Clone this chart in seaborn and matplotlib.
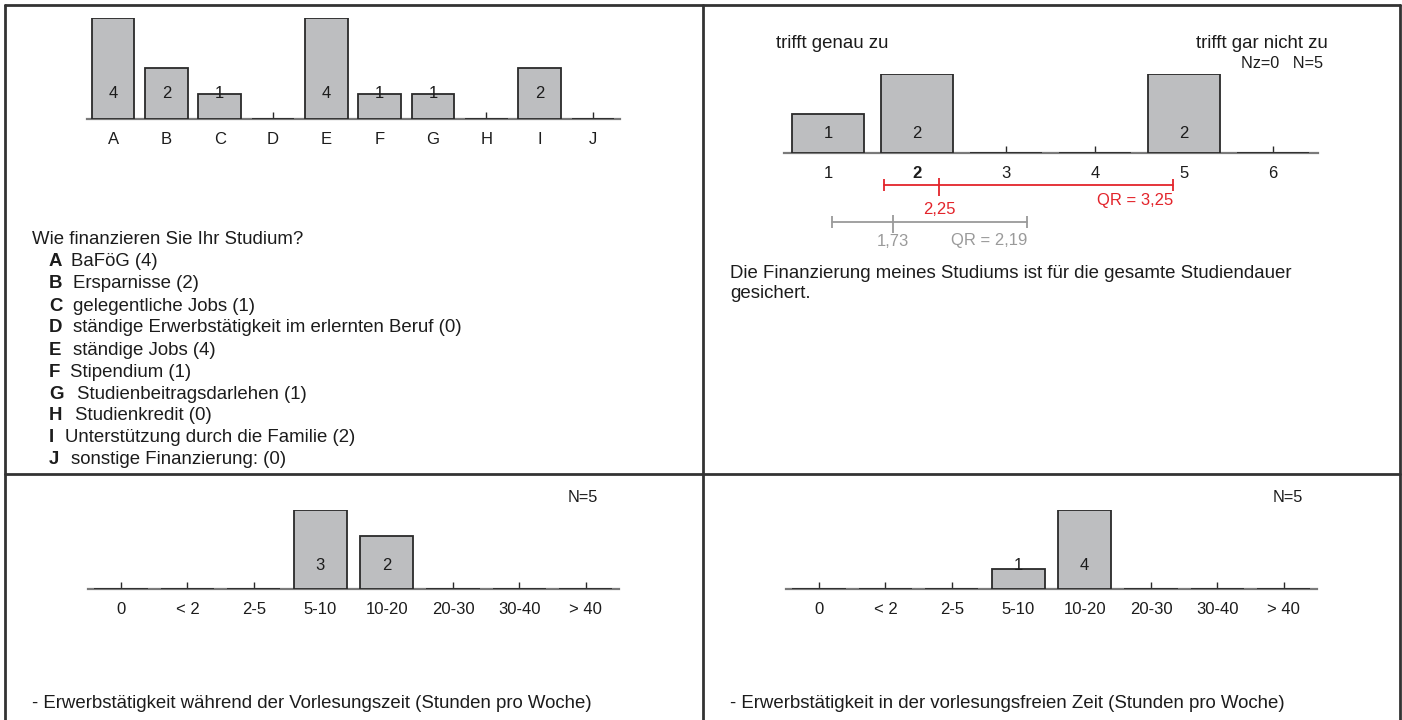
import matplotlib
matplotlib.use('Agg')
import matplotlib.pyplot as plt
import seaborn as sns
from matplotlib.lines import Line2D

# Data
fin_cats = ['A', 'B', 'C', 'D', 'E', 'F', 'G', 'H', 'I', 'J']
fin_counts = [4, 2, 1, 0, 4, 1, 1, 0, 2, 0]
fin_texts = ['BaFöG (4)', 'Ersparnisse (2)', 'gelegentliche Jobs (1)',
             'ständige Erwerbstätigkeit im erlernten Beruf (0)', 'ständige Jobs (4)',
             'Stipendium (1)', 'Studienbeitragsdarlehen (1)', 'Studienkredit (0)',
             'Unterstützung durch die Familie (2)', 'sonstige Finanzierung: (0)']

scale_cats = ['1', '2', '3', '4', '5', '6']
scale_counts = [1, 2, 0, 0, 2, 0]
median_val, q_low, q_high = 2.25, 1.625, 4.875
mean_val, g_low, g_high = 1.73, 1.05, 3.24

hour_cats = ['0', '< 2', '2-5', '5-10', '10-20', '20-30', '30-40', '> 40']
hours_lecture = [0, 0, 0, 3, 2, 0, 0, 0]
hours_free = [0, 0, 0, 1, 4, 0, 0, 0]

sns.set_theme(style='white')
plt.rcParams['font.family'] = ['Liberation Sans', 'DejaVu Sans']

W, H = 1402, 720
fig = plt.figure(figsize=(W / 100, H / 100), dpi=100)

TXT = '#1c1c1c'
BAR = '#bdbec0'
EDGE = '#2a2a2a'
RED = '#e3242b'
GRAY = '#9a9a9a'
FS = 13.4
TFS = 12


def fx(x):
    return x / W


def fy(y):
    return 1 - y / H


def add_ax(left, right, top, bottom):
    return fig.add_axes([fx(left), fy(bottom), fx(right) - fx(left), (bottom - top) / H])


def bar_panel(ax, cats, vals, ymax, label_off):
    sns.barplot(x=cats, y=vals, ax=ax, color=BAR, edgecolor=EDGE, linewidth=1.3,
                width=0.8, saturation=1, order=cats, zorder=3)
    ax.set_xlim(-0.5, len(cats) - 0.5)
    ax.set_ylim(0, ymax)
    for s in ['top', 'left', 'right']:
        ax.spines[s].set_visible(False)
    ax.spines['bottom'].set_color('#7a7a7a')
    ax.spines['bottom'].set_linewidth(1.6)
    ax.spines['bottom'].set_zorder(1)
    ax.set_yticks([])
    ax.set_xlabel('')
    ax.set_ylabel('')
    ax.tick_params(axis='x', direction='in', length=5, width=1, color=EDGE,
                   labelsize=TFS, labelcolor=TXT, pad=9, bottom=True)
    ax.patch.set_alpha(0)
    for i, v in enumerate(vals):
        if v > 0:
            ax.annotate(str(v), xy=(i, 0), xytext=(0, label_off), textcoords='offset pixels',
                        ha='center', va='center', fontsize=TFS, color=TXT, zorder=5)


# Frame lines
for xs, ys in [([5, 1400], [5, 5]), ([5, 5], [5, 720]), ([1400, 1400], [5, 720]),
               ([703, 703], [5, 720]), ([5, 1400], [474, 474])]:
    fig.add_artist(Line2D([fx(x) for x in xs], [fy(y) for y in ys], color='#333333', lw=2))

# Top-left: financing
ax1 = add_ax(86.5, 619.5, 18, 119)
bar_panel(ax1, fin_cats, fin_counts, max(fin_counts), 25)

fig.text(fx(32), fy(240), 'Wie finanzieren Sie Ihr Studium?', fontsize=FS, color=TXT, va='center')
text_x = [71, 73, 73, 73, 73, 70, 77, 75, 65, 71]
for i, (c, t) in enumerate(zip(fin_cats, fin_texts)):
    y = 262 + i * 22
    fig.text(fx(49), fy(y), c, fontsize=FS, fontweight='bold', color=TXT, va='center')
    fig.text(fx(text_x[i]), fy(y), t, fontsize=FS, color=TXT, va='center')

# Top-right: rating scale
ax2 = add_ax(783.5, 1317.5, 74, 153)
bar_panel(ax2, scale_cats, scale_counts, max(scale_counts), 20)
ax2.get_xticklabels()[1].set_fontweight('bold')
fig.text(fx(776), fy(44), 'trifft genau zu', fontsize=FS, color=TXT, va='center')
fig.text(fx(1328), fy(44), 'trifft gar nicht zu', fontsize=FS, color=TXT, va='center', ha='right')
fig.text(fx(1323), fy(64), 'Nz=0   N=5', fontsize=11.7, color=TXT, va='center', ha='right')

axq = add_ax(783.5, 1317.5, 170, 250)
axq.set_xlim(-0.5, 5.5)
axq.set_ylim(250, 170)
axq.axis('off')
# positions in scale units (category index = value - 1)
axq.plot([q_low - 1, q_high - 1], [185, 185], color=RED, lw=1.3)
axq.plot([q_low - 1, q_high - 1], [185, 185], ls='none', marker='|', ms=8, mew=1.3, color=RED)
axq.plot([median_val - 1], [187], ls='none', marker='|', ms=13, mew=1.3, color=RED)
axq.text(median_val - 1, 209, '2,25', color=RED, fontsize=TFS, ha='center', va='center')
axq.text(q_high - 1, 200, 'QR = 3,25', color=RED, fontsize=TFS, ha='right', va='center')
axq.plot([g_low - 1, g_high - 1], [222, 222], color=GRAY, lw=1.3)
axq.plot([g_low - 1, g_high - 1], [222, 222], ls='none', marker='|', ms=8, mew=1.3, color=GRAY)
axq.plot([mean_val - 1], [224], ls='none', marker='|', ms=13, mew=1.3, color=GRAY)
axq.text(mean_val - 1, 242, '1,73', color=GRAY, fontsize=TFS, ha='center', va='center')
axq.text(g_high - 1, 240, 'QR = 2,19', color=GRAY, fontsize=TFS, ha='right', va='center')

fig.text(fx(730), fy(274), 'Die Finanzierung meines Studiums ist für die gesamte Studiendauer',
         fontsize=FS, color=TXT, va='center')
fig.text(fx(730), fy(294), 'gesichert.', fontsize=FS, color=TXT, va='center')

# Bottom-left: hours during lecture period
ax3 = add_ax(87.8, 619, 510, 589)
bar_panel(ax3, hour_cats, hours_lecture, max(hours_lecture), 23)
fig.text(fx(598), fy(498), 'N=5', fontsize=11.7, color=TXT, va='center', ha='right')
fig.text(fx(32), fy(703), '- Erwerbstätigkeit während der Vorlesungszeit (Stunden pro Woche)',
         fontsize=FS, color=TXT, va='center')

# Bottom-right: hours outside lecture period
ax4 = add_ax(785.8, 1317, 510, 589)
bar_panel(ax4, hour_cats, hours_free, max(hours_free), 23)
fig.text(fx(1303), fy(498), 'N=5', fontsize=11.7, color=TXT, va='center', ha='right')
fig.text(fx(730), fy(703), '- Erwerbstätigkeit in der vorlesungsfreien Zeit (Stunden pro Woche)',
         fontsize=FS, color=TXT, va='center')

fig.savefig('out.png', dpi=100, facecolor='white')
